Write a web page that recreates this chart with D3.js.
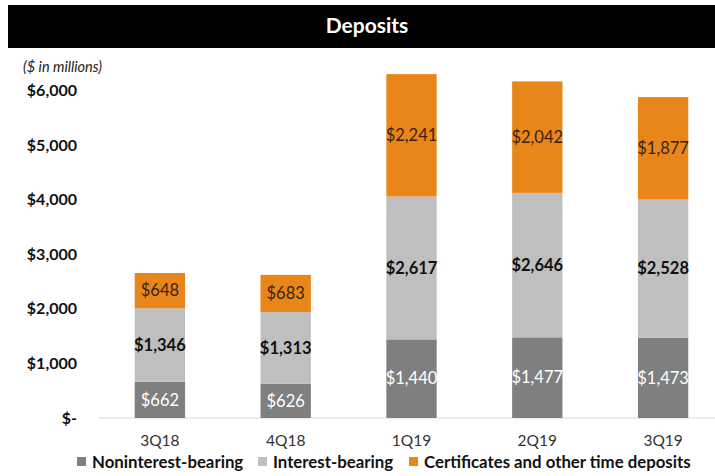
<!DOCTYPE html>
<html>
<head>
<meta charset="utf-8">
<script src="https://cdn.jsdelivr.net/npm/d3@7"></script>
<style>
  body { margin: 0; background: #fff; }
  svg { display: block; font-family: Lato, "Open Sans", sans-serif; }
</style>
</head>
<body>
<svg id="chart"></svg>
<script>
const quarters = ['3Q18', '4Q18', '1Q19', '2Q19', '3Q19'];
const nonInterest = [662, 626, 1440, 1477, 1473];
const interest = [1346, 1313, 2617, 2646, 2528];
const certificates = [648, 683, 2241, 2042, 1877];
const seriesNames = ['Noninterest-bearing', 'Interest-bearing', 'Certificates and other time deposits'];
const yTicks = [0, 1000, 2000, 3000, 4000, 5000, 6000];

const width = 715;
const height = 476;
const colors = ['#7f7f7f', '#bfbfbf', '#e8861a'];
const labelColors = ['#ffffff', '#111111', '#3a2410'];
const labelWeights = ['normal', 'bold', 'normal'];

const svg = d3.select('#chart').attr('width', width).attr('height', height);

// bandeau titre
svg.append('rect')
  .attr('x', 8).attr('y', 5).attr('width', width - 8).attr('height', 43)
  .attr('fill', '#000');
svg.append('text')
  .attr('x', 367).attr('y', 33)
  .attr('text-anchor', 'middle')
  .attr('fill', '#fff')
  .attr('font-size', '21px')
  .attr('font-weight', 'bold')
  .text('Deposits');

svg.append('text')
  .attr('x', 23).attr('y', 72)
  .attr('font-size', '14.5px')
  .attr('font-style', 'italic')
  .attr('fill', '#222')
  .text('($ in millions)');

const x = d3.scaleBand()
  .domain(quarters)
  .range([97, 726])
  .paddingInner(0.6)
  .paddingOuter(0.3);

const y = d3.scaleLinear()
  .domain([0, 6000])
  .range([418, 90.4]);

const table = quarters.map((q, i) => ({
  quarter: q,
  nonInterest: nonInterest[i],
  interest: interest[i],
  certificates: certificates[i]
}));
const keys = ['nonInterest', 'interest', 'certificates'];
const stacked = d3.stack().keys(keys)(table);

// axe y
const yAxis = svg.append('g')
  .attr('transform', 'translate(77,0)')
  .call(d3.axisLeft(y).tickValues(yTicks).tickSize(0).tickPadding(0)
    .tickFormat(d => d === 0 ? '$-' : d3.format('$,')(d)));
yAxis.select('.domain').remove();
yAxis.selectAll('text')
  .attr('font-size', '16px')
  .attr('font-weight', 'bold')
  .attr('fill', '#111')
  .attr('font-family', 'Lato, sans-serif');

// ligne de base
svg.append('line')
  .attr('x1', 98).attr('x2', width)
  .attr('y1', y(0)).attr('y2', y(0))
  .attr('stroke', '#d9d9d9').attr('stroke-width', 1);

// barres
const layers = svg.selectAll('.layer')
  .data(stacked)
  .enter()
  .append('g')
  .attr('class', 'layer')
  .attr('fill', (_, i) => colors[i]);

layers.selectAll('rect')
  .data(d => d)
  .enter()
  .append('rect')
  .attr('x', d => x(d.data.quarter))
  .attr('y', d => y(d[1]))
  .attr('width', x.bandwidth())
  .attr('height', d => y(d[0]) - y(d[1]));

// valeurs
stacked.forEach((layer, li) => {
  svg.append('g')
    .selectAll('text')
    .data(layer)
    .enter()
    .append('text')
    .attr('x', d => x(d.data.quarter) + x.bandwidth() / 2)
    .attr('y', d => (y(d[0]) + y(d[1])) / 2)
    .attr('dy', '0.35em')
    .attr('text-anchor', 'middle')
    .attr('font-size', '16.5px')
    .attr('font-weight', labelWeights[li])
    .attr('fill', labelColors[li])
    .text(d => d3.format('$,')(d[1] - d[0]));
});

// axe x
const xAxis = svg.append('g')
  .attr('transform', 'translate(0,' + y(0) + ')')
  .call(d3.axisBottom(x).tickSize(0).tickPadding(17));
xAxis.select('.domain').remove();
xAxis.selectAll('text')
  .attr('font-size', '15.5px')
  .attr('fill', '#333')
  .attr('font-family', 'Lato, sans-serif');

// légende
const legendX = [77, 258, 409];
const legend = svg.append('g');
seriesNames.forEach((name, i) => {
  legend.append('rect')
    .attr('x', legendX[i]).attr('y', 457)
    .attr('width', 9).attr('height', 9)
    .attr('fill', colors[i]);
  legend.append('text')
    .attr('x', legendX[i] + 15).attr('y', 468)
    .attr('font-size', '16.8px')
    .attr('font-weight', 'bold')
    .attr('fill', '#111')
    .text(name);
});
</script>
</body>
</html>
